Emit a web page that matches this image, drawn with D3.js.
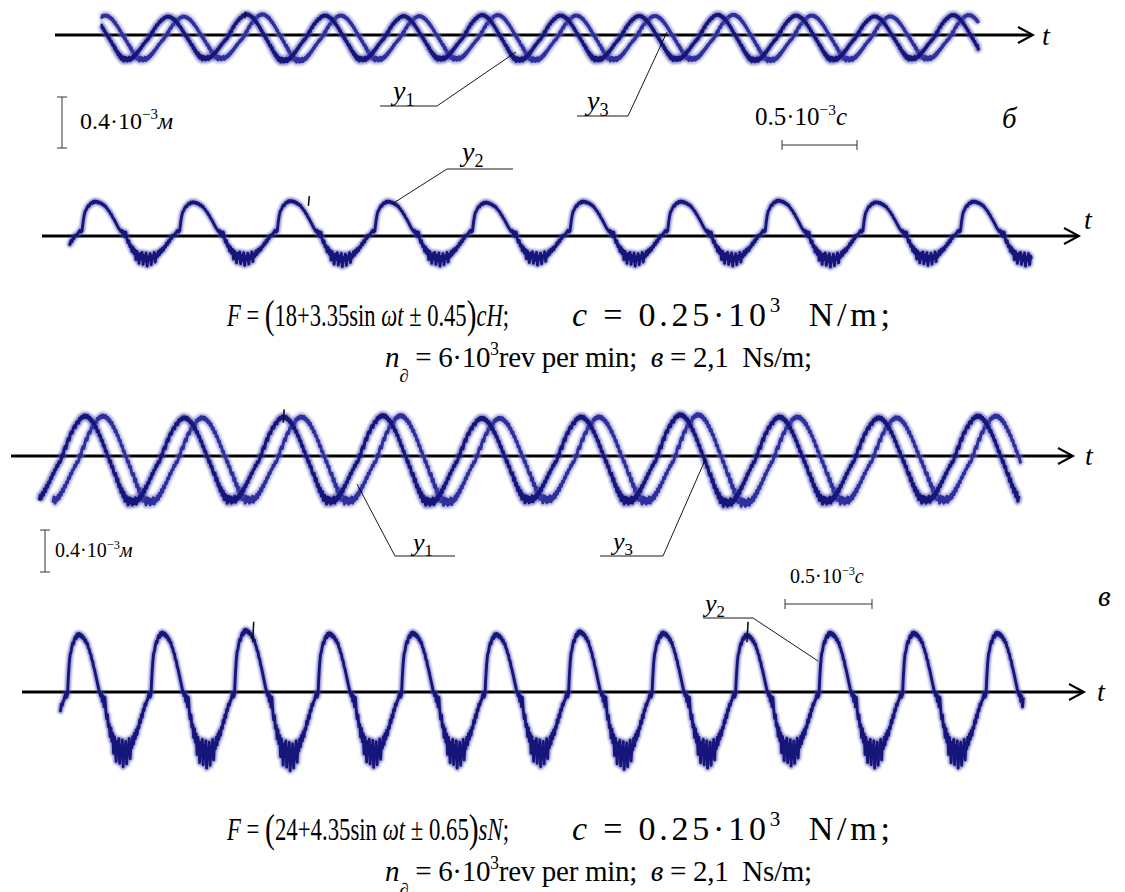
<!DOCTYPE html>
<html>
<head>
<meta charset="utf-8">
<script src="https://cdn.jsdelivr.net/npm/d3@7"></script>
<style>
  body { margin: 0; background: #fff; }
  svg { display: block; }
  text, tspan { font-family: "Liberation Serif", "Times New Roman", "DejaVu Serif", serif; white-space: pre; }
</style>
</head>
<body>
<svg id="fig"></svg>
<script>
// one period of the y1 / y3 traces, 96 samples from the upward zero crossing
const shapeY13 = [0.00, 0.12, 0.08, 0.24, 0.30, 0.26, 0.40, 0.48, 0.44, 0.58,
    0.63, 0.60, 0.72, 0.76, 0.72, 0.84, 0.86, 0.82, 0.93, 0.90,
    0.97, 0.93, 1.00, 0.95, 1.00, 0.94, 0.99, 0.91, 0.95, 0.86,
    0.90, 0.80, 0.84, 0.72, 0.75, 0.63, 0.66, 0.54, 0.55, 0.43,
    0.44, 0.31, 0.32, 0.19, 0.20, 0.07, 0.08, -0.05, -0.02, -0.16,
    -0.14, -0.28, -0.34, -0.30, -0.48, -0.42, -0.60, -0.55, -0.72, -0.64,
    -0.82, -0.72, -0.92, -0.80, -0.88, -1.00, -0.84, -0.96, -0.86, -1.00,
    -0.88, -0.97, -0.84, -0.98, -0.86, -0.92, -0.80, -0.88, -0.74, -0.80,
    -0.66, -0.72, -0.58, -0.62, -0.50, -0.52, -0.40, -0.42, -0.30, -0.32,
    -0.22, -0.22, -0.12, -0.14, -0.04, -0.06];
// one period of the y2 trace (rounded stepped arch on top, hairy trough)
const shapeY2 = [0.00, 0.06, 0.10, 0.04, 0.08, 0.35, 0.55, 0.68, 0.72, 0.80,
    0.86, 0.84, 0.92, 0.95, 0.92, 0.99, 0.95, 1.00, 0.96, 0.99,
    0.94, 0.97, 0.92, 0.94, 0.88, 0.90, 0.84, 0.85, 0.78, 0.76,
    0.70, 0.68, 0.60, 0.58, 0.50, 0.46, 0.40, 0.34, 0.28, 0.22,
    0.16, 0.12, 0.06, 0.10, -0.02, 0.06, -0.10, 0.04, -0.15, -0.28,
    -0.22, -0.40, -0.36, -0.55, -0.42, -0.62, -0.50, -0.80, -0.55, -0.70,
    -0.92, -0.62, -0.78, -0.58, -0.95, -0.68, -0.85, -0.60, -1.00, -0.72,
    -0.82, -0.62, -0.96, -0.70, -0.78, -0.58, -0.88, -0.64, -0.72, -0.55,
    -0.66, -0.50, -0.58, -0.45, -0.52, -0.40, -0.42, -0.30, -0.34, -0.22,
    -0.26, -0.14, -0.16, -0.06, -0.08, -0.02];

// amplitude factor of each cycle (cycle -1 .. 11)
const ampB13 = [1.00, 0.95, 1.05, 1.00, 0.97, 1.02, 1.00, 0.98, 1.03, 1.00, 0.96, 1.02, 1.00];
const ampB2 = [1.00, 1.00, 0.98, 1.02, 1.00, 0.97, 1.00, 1.00, 1.03, 0.98, 1.00, 1.00, 1.00];
const ampV13 = [1.00, 1.02, 0.98, 1.00, 1.03, 0.97, 1.00, 1.05, 1.00, 0.98, 1.02, 1.00, 1.00];
const ampV2 = [1.00, 0.98, 1.00, 1.04, 0.99, 1.00, 0.98, 1.02, 1.00, 0.97, 1.00, 1.00, 1.00];

// traces: name, oscillogram row, time span in cycles, lag behind row phase (cycles)
const traceName = ["y1", "y3", "y2", "y1", "y3", "y2"];
const traceRow = [0, 0, 1, 2, 2, 3];
const traceFrom = [-0.62, -0.62, -0.10, -0.22, -0.09, -0.06];
const traceTo = [10.58, 10.57, 9.78, 9.66, 9.68, 11.49];
const traceLag = [0, 0.20, 0, 0, 0.18, 0];

// small black marks on the crests (row, time in cycles)
const markRow = [0, 1, 2, 3, 3];
const markT = [1.22, 2.36, 2.24, 2.26, 8.18];

const rowShape = [shapeY13, shapeY2, shapeY13, shapeY2];
const rowAmp = [ampB13, ampB2, ampV13, ampV2];

const W = 1125, H = 892;

// layout of the four oscillogram rows
const rows = [
    { axisY: 35, x0: 149, period: 78.5, up: 20, down: 26, from: 55, to: 1033, tx: 1042, ty: 45 },
    { axisY: 236, x0: 78, period: 97.6, up: 35, down: 30, from: 42, to: 1079, tx: 1084, ty: 229 },
    { axisY: 456, x0: 61, period: 99.2, up: 40, down: 48, from: 11, to: 1073, tx: 1085, ty: 465 },
    { axisY: 692, x0: 64, period: 83.5, up: 60, down: 76, from: 22, to: 1084, tx: 1097, ty: 701 }
];
rows.forEach(r => {
    r.x = d3.scaleLinear().domain([0, 1]).range([r.x0, r.x0 + r.period]);
    r.y = d3.scaleLinear().domain([-1, 1]).range([r.axisY + r.down, r.axisY - r.up]);
});

const svg = d3.select('#fig').attr('width', W).attr('height', H);
svg.append('rect').attr('width', W).attr('height', H).attr('fill', '#fff');

const defs = svg.append('defs');
defs.append('filter').attr('id', 'soft').attr('x', '-5%').attr('y', '-20%').attr('width', '110%').attr('height', '140%')
    .append('feGaussianBlur').attr('stdDeviation', 1.2);
defs.append('filter').attr('id', 'soft2').attr('x', '-5%').attr('y', '-20%').attr('width', '110%').attr('height', '140%')
    .append('feGaussianBlur').attr('stdDeviation', 0.5);

// axes with open arrow heads
const gAxes = svg.append('g');
rows.forEach(r => {
    gAxes.append('line').attr('x1', r.from).attr('x2', r.to - 1)
        .attr('y1', r.axisY).attr('y2', r.axisY)
        .attr('stroke', '#000').attr('stroke-width', 3);
    gAxes.append('path')
        .attr('d', `M${r.to - 15},${r.axisY - 8} L${r.to},${r.axisY} L${r.to - 15},${r.axisY + 8}`)
        .attr('fill', 'none').attr('stroke', '#000').attr('stroke-width', 2);
    gAxes.append('text').attr('x', r.tx).attr('y', r.ty)
        .style('font-style', 'italic').style('font-size', '28px')
        .text('t');
});

// build the sampled points of one trace
function tracePoints(j) {
    const shape = rowShape[traceRow[j]];
    const amp = rowAmp[traceRow[j]];
    const n = shape.length, lag = traceLag[j];
    const pts = [];
    const s0 = Math.ceil((traceFrom[j] - lag) * n), s1 = Math.floor((traceTo[j] - lag) * n);
    for (let s = s0; s <= s1; s++) {
        const u = s / n;
        const k = Math.floor(u) + 1;
        pts.push({ t: u + lag, v: shape[((s % n) + n) % n] * amp[Math.max(0, Math.min(amp.length - 1, k))] });
    }
    return pts;
}

const gTraces = svg.append('g');
// draw y3 first so y1 sits on top
[1, 4, 0, 2, 3, 5].forEach(j => {
    const name = traceName[j];
    const r = rows[traceRow[j]];
    const line = d3.line().x(d => r.x(d.t)).y(d => r.y(d.v));
    const pts = tracePoints(j);
    const light = name === 'y3';
    const big = traceRow[j] % 2 === 0;
    gTraces.append('path').datum(pts).attr('d', line)
        .attr('fill', 'none')
        .attr('stroke', light ? '#7b7bc8' : '#4848ad')
        .attr('stroke-width', big ? 7 : 6)
        .attr('stroke-opacity', light ? 0.55 : 0.6)
        .attr('stroke-linejoin', 'round')
        .attr('filter', 'url(#soft)');
    gTraces.append('path').datum(pts).attr('d', line)
        .attr('fill', 'none')
        .attr('stroke', light ? '#2e2e9c' : '#13137a')
        .attr('stroke-width', big ? 3 : 2.8)
        .attr('stroke-linejoin', 'round')
        .attr('filter', 'url(#soft2)');
});

markT.forEach((t, i) => {
    const r = rows[markRow[i]];
    gTraces.append('line')
        .attr('x1', r.x(t)).attr('x2', r.x(t) + 1)
        .attr('y1', r.y(0.85)).attr('y2', r.y(1.15))
        .attr('stroke', '#111').attr('stroke-width', 1.6);
});

// text with italic / super / subscript pieces
function richText(x, y, size, parts, width, adjust) {
    const txt = svg.append('text').attr('x', x).attr('y', y)
        .style('font-size', size + 'px').attr('fill', '#000');
    let shift = 0;
    parts.forEach(p => {
        const [str, st = '', off] = p;
        let target = 0, fs = size;
        if (st.includes('^')) { target = -size * 0.42; fs = size * 0.62; }
        if (st.includes('_')) { target = off !== undefined ? off : size * 0.22; fs = size * 0.65; }
        if (st.includes('B')) { target = size * 0.06; fs = size * 1.3; }
        txt.append('tspan')
            .attr('dy', target - shift)
            .style('font-size', fs + 'px')
            .style('font-style', st.includes('i') ? 'italic' : 'normal')
            .text(str);
        shift = target;
    });
    if (width) txt.attr('textLength', width).attr('lengthAdjust', adjust || 'spacing');
    return txt;
}

function thin(x1, y1, x2, y2) {
    svg.append('line').attr('x1', x1).attr('y1', y1).attr('x2', x2).attr('y2', y2)
        .attr('stroke', '#000').attr('stroke-width', 0.9);
}

// trace labels with leader lines
function traceLabel(x, y, sub, size) {
    richText(x, y, size, [['y', 'i'], [sub, '_', size * 0.2]]);
}
traceLabel(393, 100, '1', 28);
thin(380, 106, 437, 106); thin(437, 106, 516, 52);
traceLabel(587, 110, '3', 28);
thin(577, 116, 628, 116); thin(628, 116, 667, 32);
traceLabel(462, 161, '2', 28);
thin(447, 169, 513, 169); thin(447, 169, 392, 204);
traceLabel(413, 551, '1', 26);
thin(395, 556, 455, 556); thin(395, 556, 357, 484);
traceLabel(613, 550, '3', 26);
thin(600, 556, 663, 556); thin(663, 556, 706, 458);
traceLabel(705, 612, '2', 26);
thin(703, 618, 753, 618); thin(753, 618, 818, 661);

// scale bars
function vBar(x, y1, y2) {
    svg.append('path').attr('d', `M${x - 5},${y1} H${x + 5} M${x},${y1} V${y2} M${x - 5},${y2} H${x + 5}`)
        .attr('stroke', '#333').attr('stroke-width', 1).attr('fill', 'none');
}
function hBar(x1, x2, y) {
    svg.append('path').attr('d', `M${x1},${y - 5} V${y + 5} M${x1},${y} H${x2} M${x2},${y - 5} V${y + 5}`)
        .attr('stroke', '#333').attr('stroke-width', 1).attr('fill', 'none');
}
vBar(62, 97, 148);
richText(80, 129, 24, [['0.4·10'], ['−3', '^'], ['м', 'i']]);
hBar(782, 857, 145);
richText(755, 125, 25, [['0.5·10'], ['−3', '^'], ['c', 'i']]);
richText(1002, 128, 29, [['б', 'i']]);

vBar(45, 530, 572);
richText(55, 557, 20, [['0.4·10'], ['−3', '^'], ['м', 'i']]);
hBar(785, 872, 604);
richText(790, 583, 20, [['0.5·10'], ['−3', '^'], ['c', 'i']]);
richText(1098, 606, 29, [['в', 'i']]);

// parameter lines
function params(y, f0, amp, dev, unit) {
    richText(227, y, 31, [['F', 'i'], [' = '], ['(', 'B'], [f0 + '+' + amp + 'sin'], [' ωt', 'i'], [' ± ' + dev], [')', 'B'], [unit, 'i'], [';']], 282, 'spacingAndGlyphs');
    richText(572, y, 34, [['c', 'i'], [' = 0.25·10'], ['3', '^'], ['  N/m;']], 318);
    richText(385, y + 41, 29, [['n', 'i'], ['∂', 'i_', 29 * 0.5], [' = 6·10'], ['3', '^'], ['rev per min;  '], ['в', 'i'], [' = 2,1  Ns/m;']], 427);
}
params(326, '18', '3.35', '0.45', 'cH');
params(840, '24', '4.35', '0.65', 'sN');
</script>
</body>
</html>
